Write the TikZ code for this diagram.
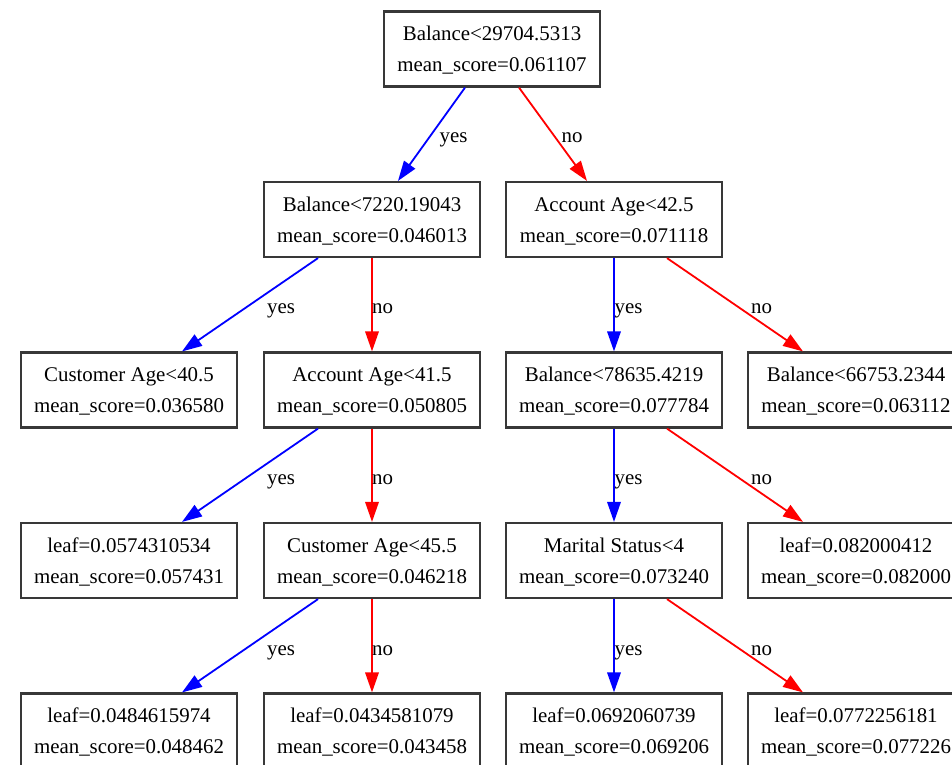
\documentclass[tikz,border=0pt]{standalone}
\usepackage{fontspec}
\setmainfont{Liberation Serif}
\usetikzlibrary{arrows.meta}
\definecolor{boxline}{HTML}{383838}
\definecolor{yescol}{HTML}{0000FF}
\definecolor{nocol}{HTML}{FF0000}
\newcommand{\topstrut}{\rule{0pt}{17pt}}
\tikzset{
  tnode/.style={draw=boxline, line width=2.2pt, rectangle, minimum width=216pt, minimum height=75pt,
    align=center, inner sep=0pt, font=\fontsize{20.9}{31}\selectfont},
  yesedge/.style={draw=yescol, line width=1.8pt, -{Triangle[length=20pt,width=13.5pt]}},
  noedge/.style={draw=nocol, line width=1.8pt, -{Triangle[length=20pt,width=13.5pt]}},
  lbl/.style={anchor=base, inner sep=0pt, font=\fontsize{20.9}{25}\selectfont}
}
\begin{document}
\begin{tikzpicture}[x=1pt,y=-1pt]
\useasboundingbox (0,0) rectangle (952,764);
\clip (0,0) rectangle (952,764);
\fill[white] (0,0) rectangle (952,764);
% nodes
\node[tnode] (root) at (492,49) {\topstrut Balance<29704.5313\\mean\_score=0.061107};
\node[tnode] (n1) at (372,219.5) {\topstrut Balance<7220.19043\\mean\_score=0.046013};
\node[tnode] (n2) at (614,219.5) {\topstrut Account Age<42.5\\mean\_score=0.071118};
\node[tnode] (n3) at (129,390) {\topstrut Customer Age<40.5\\mean\_score=0.036580};
\node[tnode] (n4) at (372,390) {\topstrut Account Age<41.5\\mean\_score=0.050805};
\node[tnode] (n5) at (614,390) {\topstrut Balance<78635.4219\\mean\_score=0.077784};
\node[tnode] (n6) at (856,390) {\topstrut Balance<66753.2344\\mean\_score=0.063112};
\node[tnode] (n7) at (129,560.5) {\topstrut leaf=0.0574310534\\mean\_score=0.057431};
\node[tnode] (n8) at (372,560.5) {\topstrut Customer Age<45.5\\mean\_score=0.046218};
\node[tnode] (n9) at (614,560.5) {\topstrut Marital Status<4\\mean\_score=0.073240};
\node[tnode] (n10) at (856,560.5) {\topstrut leaf=0.082000412\\mean\_score=0.082000};
\node[tnode] (n11) at (129,731) {\topstrut leaf=0.0484615974\\mean\_score=0.048462};
\node[tnode] (n12) at (372,731) {\topstrut leaf=0.0434581079\\mean\_score=0.043458};
\node[tnode] (n13) at (614,731) {\topstrut leaf=0.0692060739\\mean\_score=0.069206};
\node[tnode] (n14) at (856,731) {\topstrut leaf=0.0772256181\\mean\_score=0.077226};
% edges
\draw[yesedge] ([xshift=-27pt]root.south) -- ([xshift=26pt]n1.north);
\draw[noedge] ([xshift=27pt]root.south) -- ([xshift=-27pt]n2.north);
\draw[yesedge] ([xshift=-54pt]n1.south) -- ([xshift=53pt]n3.north);
\draw[noedge] (n1.south) -- (n4.north);
\draw[yesedge] (n2.south) -- (n5.north);
\draw[noedge] ([xshift=53pt]n2.south) -- ([xshift=-53pt]n6.north);
\draw[yesedge] ([xshift=-54pt]n4.south) -- ([xshift=53pt]n7.north);
\draw[noedge] (n4.south) -- (n8.north);
\draw[yesedge] (n5.south) -- (n9.north);
\draw[noedge] ([xshift=53pt]n5.south) -- ([xshift=-53pt]n10.north);
\draw[yesedge] ([xshift=-54pt]n8.south) -- ([xshift=53pt]n11.north);
\draw[noedge] (n8.south) -- (n12.north);
\draw[yesedge] (n9.south) -- (n13.north);
\draw[noedge] ([xshift=53pt]n9.south) -- ([xshift=-53pt]n14.north);
% labels
\node[lbl] (l0y) at (453.5,142) {yes};
\node[lbl] (l0n) at (572,142) {no};
\node[lbl] (l1y) at (281,313) {yes};
\node[lbl] (l1n) at (382.5,313) {no};
\node[lbl] (l2y) at (628.5,313) {yes};
\node[lbl] (l2n) at (761.5,313) {no};
\node[lbl] (l3y) at (281,484) {yes};
\node[lbl] (l3n) at (382.5,484) {no};
\node[lbl] (l4y) at (628.5,484) {yes};
\node[lbl] (l4n) at (761.5,484) {no};
\node[lbl] (l5y) at (281,655) {yes};
\node[lbl] (l5n) at (382.5,655) {no};
\node[lbl] (l6y) at (628.5,655) {yes};
\node[lbl] (l6n) at (761.5,655) {no};
\end{tikzpicture}
\end{document}
